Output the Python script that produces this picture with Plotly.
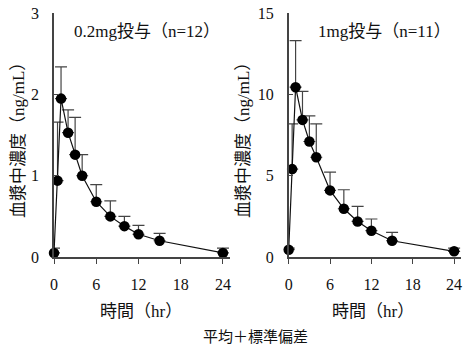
import plotly.graph_objects as go

time_hr = [0, 0.5, 1, 2, 3, 4, 6, 8, 10, 12, 15, 24]
low_mean = [0.05, 0.94, 1.95, 1.53, 1.26, 1.00, 0.68, 0.50, 0.38, 0.28, 0.20, 0.05]
low_sd = [0.06, 0.72, 0.39, 0.28, 0.46, 0.26, 0.21, 0.19, 0.12, 0.11, 0.09, 0.06]
high_mean = [0.45, 5.41, 10.45, 8.44, 7.11, 6.14, 4.10, 2.97, 2.19, 1.62, 1.00, 0.35]
high_sd = [0.10, 2.79, 2.87, 1.76, 1.58, 2.06, 1.13, 1.17, 0.93, 0.72, 0.51, 0.20]
x_ticks = [0, 6, 12, 18, 24]
low_yticks = [0, 1, 2, 3]
high_yticks = [0, 5, 10, 15]

FONT = "Liberation Serif, Noto Sans CJK JP, serif"
W, H = 473, 350

def px(x):
    return x / W

def py(y):
    return 1 - y / H

fig = go.Figure()

for mean, sd, xa, ya in [(low_mean, low_sd, "x", "y"), (high_mean, high_sd, "x2", "y2")]:
    fig.add_trace(go.Scatter(
        x=time_hr, y=mean, xaxis=xa, yaxis=ya, mode="lines+markers",
        line=dict(color="#111", width=1.2),
        marker=dict(color="#000", size=10.5),
        error_y=dict(type="data", symmetric=False, array=sd,
                     arrayminus=[0] * len(sd), color="#444",
                     thickness=1.2, width=6),
        cliponaxis=False, showlegend=False,
    ))

axis_common = dict(showline=True, linecolor="#444", linewidth=1.5,
                   showgrid=False, zeroline=False, automargin=False,
                   tickfont=dict(family=FONT, size=16, color="#111"),
                   tickcolor="#444", ticklen=5)

fig.update_layout(
    width=W, height=H, margin=dict(l=0, r=0, t=0, b=0, pad=0, autoexpand=False),
    paper_bgcolor="white", plot_bgcolor="white", showlegend=False,
    xaxis=dict(domain=[px(54), px(230)], range=[0, 25], tickvals=x_ticks,
               ticks="outside", anchor="y", ticklabelstandoff=7, **axis_common),
    yaxis=dict(domain=[py(257), py(13.3)], range=[0, 3], tickvals=low_yticks,
               ticks="inside", anchor="x", ticklabelstandoff=10, **axis_common),
    xaxis2=dict(domain=[px(288.7), px(461)], range=[0, 25], tickvals=x_ticks,
                ticks="outside", anchor="y2", ticklabelstandoff=7, **axis_common),
    yaxis2=dict(domain=[py(257), py(13.3)], range=[0, 15], tickvals=high_yticks,
                ticks="inside", anchor="x2", ticklabelstandoff=10, **axis_common),
)

ann_font = dict(family=FONT, size=17, color="#111")
annotations = [
    dict(text="0.2mg投与（n=12）", x=px(72), y=py(32), xanchor="left"),
    dict(text="1mg投与（n=11）", x=px(316), y=py(32), xanchor="left"),
    dict(text="血漿中濃度（ng/mL）", x=px(18), y=py(136), textangle=-90),
    dict(text="血漿中濃度（ng/mL）", x=px(243), y=py(136), textangle=-90),
    dict(text="時間（hr）", x=px(141), y=py(311)),
    dict(text="時間（hr）", x=px(373), y=py(311)),
    dict(text="平均＋標準偏差", x=px(255), y=py(337), font=dict(family=FONT, size=15, color="#111")),
]
for a in annotations:
    a.setdefault("font", ann_font)
    a.setdefault("xanchor", "center")
    fig.add_annotation(xref="paper", yref="paper", yanchor="middle",
                       showarrow=False, **a)

fig.write_html("out.html")
